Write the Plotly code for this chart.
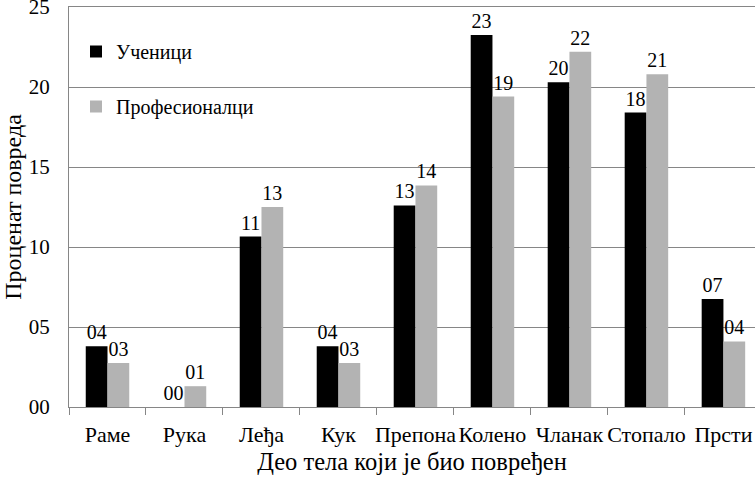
import plotly.graph_objects as go

categories = ["Раме", "Рука", "Леђа", "Кук", "Препона", "Колено", "Чланак", "Стопало", "Прсти"]
ucenici = [3.8, 0.0, 10.65, 3.8, 12.6, 23.25, 20.3, 18.4, 6.75]
profesionalci = [2.75, 1.3, 12.5, 2.75, 13.85, 19.4, 22.2, 20.8, 4.1]
y_ticks = [0, 5, 10, 15, 20, 25]
y_tick_text = ["00", "05", "10", "15", "20", "25"]

FONT = "Liberation Serif"
AXIS_GREY = "#868686"

fig = go.Figure()
fig.add_trace(go.Bar(
    x=categories, y=ucenici, name="Ученици", marker_color="#000000",
    texttemplate="%{y:02.0f}", textposition="outside", cliponaxis=False,
    textfont=dict(family=FONT, size=20, color="black"), legendgroup="a",
))
fig.add_trace(go.Bar(
    x=categories, y=profesionalci, name="Професионалци", marker_color="#b3b3b3",
    texttemplate="%{y:02.0f}", textposition="outside", cliponaxis=False,
    textfont=dict(family=FONT, size=20, color="black"), legendgroup="b",
))

fig.update_layout(
    template="none",
    width=755, height=478,
    margin=dict(l=69, r=0, t=7, b=71),
    paper_bgcolor="white", plot_bgcolor="white",
    barmode="group", bargap=0.435, bargroupgap=0,
    font=dict(family=FONT, size=20, color="black"),
    showlegend=True,
    legend=dict(x=0.0102, y=0.9375, xanchor="left", yanchor="top",
                font=dict(family=FONT, size=20, color="black"),
                tracegroupgap=26, bgcolor="rgba(0,0,0,0)"),
)
fig.update_xaxes(
    range=[-0.5, 8.41], type="category",
    showline=True, linecolor=AXIS_GREY, linewidth=1, mirror=True,
    ticks="outside", tickson="boundaries", ticklen=7, tickcolor=AXIS_GREY,
    tickangle=0, ticklabelstandoff=8,
    tickfont=dict(family=FONT, size=22, color="black"),
    title=dict(text="Део тела који је био повређен", font=dict(family=FONT, size=24.5, color="black"), standoff=6),
    showgrid=False,
)
fig.update_yaxes(
    range=[0, 25], tickvals=y_ticks, ticktext=y_tick_text,
    showgrid=True, gridcolor=AXIS_GREY, gridwidth=1,
    showline=True, linecolor=AXIS_GREY, linewidth=1,
    ticks="", ticklabelstandoff=14, ticklabeloverflow="allow",
    tickfont=dict(family=FONT, size=21, color="black"),
    title=dict(text="Проценат повреда", font=dict(family=FONT, size=24, color="black"), standoff=10),
    zeroline=False,
)

fig.write_html("out.html")
